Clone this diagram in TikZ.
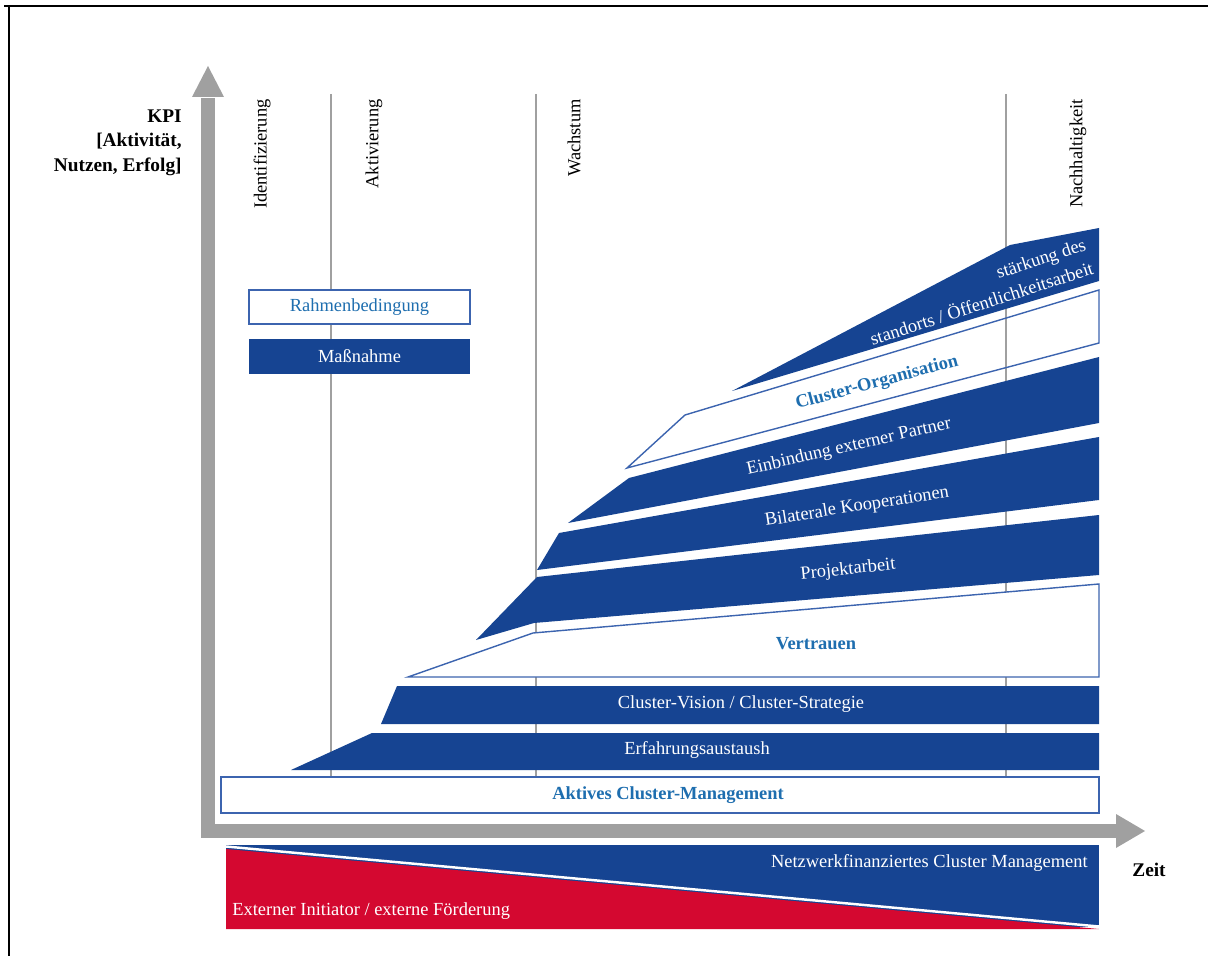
\documentclass[tikz,border=0pt]{standalone}
\usepackage{fontspec}
\setmainfont{Liberation Serif}
\usetikzlibrary{positioning}
\definecolor{clblue}{RGB}{22,68,146}
\definecolor{clred}{RGB}{212,8,48}
\definecolor{clgray}{RGB}{160,160,160}
\definecolor{txtblue}{RGB}{30,110,175}
\definecolor{edgeblue}{RGB}{60,100,175}

\begin{document}
\begin{tikzpicture}[x=0.02cm, y=-0.02cm,
	txt/.style={font=\fontsize{10.5}{12.6}\selectfont, inner sep=0pt},
	phase/.style={txt, rotate=90, anchor=east},
	onblue/.style={txt, text=white},
	onwhite/.style={txt, text=txtblue, font=\fontsize{10.5}{12.6}\selectfont\bfseries},
	bandwhite/.style={draw=edgeblue, line width=0.8pt}]
			\useasboundingbox (0,0) rectangle (1208,956);
			\draw[line width=1.6pt] (4,6) -- (1208,6);
			\draw[line width=1.6pt] (9,6) -- (9,956);
			
			\foreach \x in {331,536,1006}
				\draw[clgray, line width=0.6pt] (\x,94) -- (\x,777);
			
			\draw[clgray, line width=0.28cm, line join=miter] (208,98) -- (208,831) -- (1117,831);
			\fill[clgray] (192,97) -- (208,66) -- (224,97) -- cycle;
			\fill[clgray] (1116,814) -- (1145,831) -- (1116,848) -- cycle;
			
			\node[phase] (ident) at (262,99) {Identifizierung};
			\node[phase] (aktiv) at (374,99) {Aktivierung};
			\node[phase] (wachs) at (574,99) {Wachstum};
			\node[phase] (nachh) at (1078,99) {Nachhaltigkeit};
			\node[font=\fontsize{11}{14}\selectfont\bfseries, align=right, anchor=north east, inner sep=0pt] (kpi) at (182,109) {KPI\hspace{4pt}\\{[Aktivität,}\\Nutzen, Erfolg]};
			\node[font=\fontsize{11}{13}\selectfont\bfseries, inner sep=0pt] (zeit) at (1149,870) {Zeit};
			
			\node[txt, draw=edgeblue, fill=white, line width=0.8pt, text=txtblue, minimum width=4.42cm, minimum height=0.68cm] (rahmen) at (359.5,307) {Rahmenbedingung};
			\node[txt, fill=clblue, text=white, minimum width=4.42cm, minimum height=0.7cm, below=0.28cm of rahmen] (massn) {Maßnahme};
			
			\draw[bandwhite, fill=white] (221,777) rectangle (1099,813);
			\fill[clblue] (291,770) -- (372,733) -- (1099,733) -- (1099,770) -- cycle;
			\fill[clblue] (381,724) -- (397,686) -- (1099,686) -- (1099,724) -- cycle;
			\draw[bandwhite, fill=white] (408,677) -- (533,633) -- (1099,584) -- (1099,677) -- cycle;
			\fill[clblue] (476,640) -- (537,577) -- (1099,515) -- (1099,575) -- (534,623) -- cycle;
			\fill[clblue] (537,570) -- (559,533) -- (1099,437) -- (1099,500) -- cycle;
			\fill[clblue] (568,523) -- (629,478) -- (1099,357) -- (1099,423) -- cycle;
			\draw[bandwhite] (627,468) -- (685,415) -- (1099,290) -- (1099,343) -- cycle;
			\fill[clblue] (732,391) -- (1010,245) -- (1099,228) -- (1099,281) -- cycle;
			
			\node[onwhite] (akt) at (668,795) {Aktives Cluster-Management};
			\node[onblue] (erf) at (697,750) {Erfahrungsaustaush};
			\node[onblue] (vision) at (741,704) {Cluster-Vision / Cluster-Strategie};
			\node[onwhite] (vert) at (816,644) {Vertrauen};
			\node[onblue, rotate=6] (proj) at (848,570) {Projektarbeit};
			\node[onblue, rotate=9] (bilat) at (857,507) {Bilaterale Kooperationen};
			\node[onblue, rotate=13] (einb) at (849,447) {Einbindung externer Partner};
			\node[onwhite, rotate=15] (corg) at (877,383) {Cluster-Organisation};
			\node[onblue, rotate=18, anchor=south east, align=right, font=\fontsize{10.5}{14}\selectfont] (staerk) at (1095,274) {stärkung des\\standorts / Öffentlichkeitsarbeit};
			
			\fill[clblue] (226,845) rectangle (1099,927);
			\fill[clred] (226,849) -- (1099,929) -- (226,929) -- cycle;
			\draw[white, line width=1.4pt] (226,846.5) -- (1099,926.5);
			\node[onblue, anchor=east] (netz) at (1088,863) {Netzwerkfinanziertes Cluster Management};
			\node[onblue, anchor=west] (ext) at (232,911) {Externer Initiator / externe Förderung};
		\end{tikzpicture}
\end{document}
